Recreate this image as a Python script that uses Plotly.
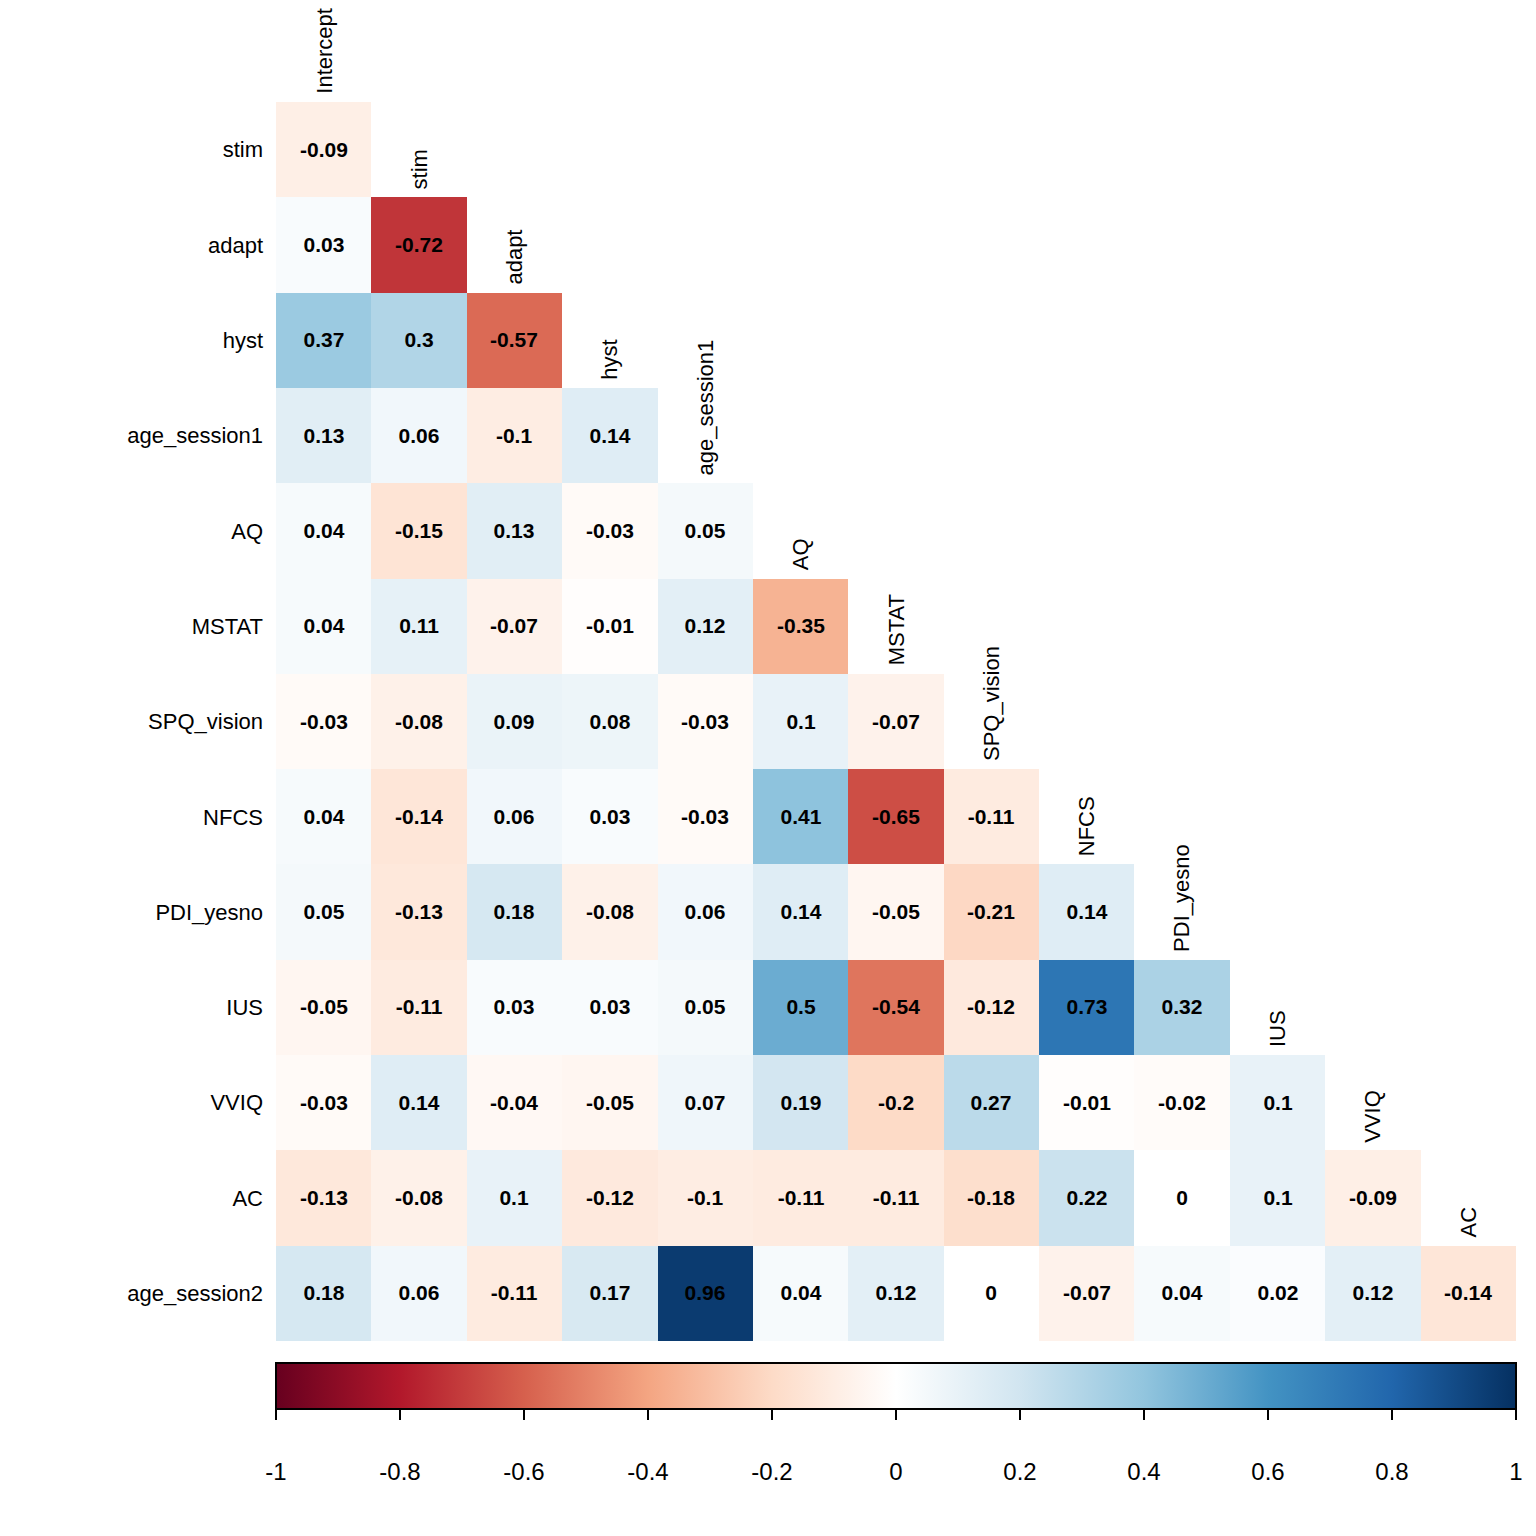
import plotly.graph_objects as go
import numpy as np

col_labels = ["Intercept", "stim", "adapt", "hyst", "age_session1", "AQ", "MSTAT",
              "SPQ_vision", "NFCS", "PDI_yesno", "IUS", "VVIQ", "AC"]
row_labels = ["stim", "adapt", "hyst", "age_session1", "AQ", "MSTAT", "SPQ_vision",
              "NFCS", "PDI_yesno", "IUS", "VVIQ", "AC", "age_session2"]

r_stim = [-0.09]
r_adapt = [0.03, -0.72]
r_hyst = [0.37, 0.3, -0.57]
r_age1 = [0.13, 0.06, -0.1, 0.14]
r_AQ = [0.04, -0.15, 0.13, -0.03, 0.05]
r_MSTAT = [0.04, 0.11, -0.07, -0.01, 0.12, -0.35]
r_SPQ = [-0.03, -0.08, 0.09, 0.08, -0.03, 0.1, -0.07]
r_NFCS = [0.04, -0.14, 0.06, 0.03, -0.03, 0.41, -0.65, -0.11]
r_PDI = [0.05, -0.13, 0.18, -0.08, 0.06, 0.14, -0.05, -0.21, 0.14]
r_IUS = [-0.05, -0.11, 0.03, 0.03, 0.05, 0.5, -0.54, -0.12, 0.73, 0.32]
r_VVIQ = [-0.03, 0.14, -0.04, -0.05, 0.07, 0.19, -0.2, 0.27, -0.01, -0.02, 0.1]
r_AC = [-0.13, -0.08, 0.1, -0.12, -0.1, -0.11, -0.11, -0.18, 0.22, 0, 0.1, -0.09]
r_age2 = [0.18, 0.06, -0.11, 0.17, 0.96, 0.04, 0.12, 0, -0.07, 0.04, 0.02, 0.12, -0.14]

rows = [r_stim, r_adapt, r_hyst, r_age1, r_AQ, r_MSTAT, r_SPQ, r_NFCS, r_PDI,
        r_IUS, r_VVIQ, r_AC, r_age2]

cb_ticks = [-1, -0.8, -0.6, -0.4, -0.2, 0, 0.2, 0.4, 0.6, 0.8, 1]
rdbu = ["#67001F", "#B2182B", "#D6604D", "#F4A582", "#FDDBC7", "#FFFFFF",
        "#D1E5F0", "#92C5DE", "#4393C3", "#2166AC", "#053061"]

n = len(col_labels)
z = [[None] * n for _ in range(len(row_labels))]
txt = [[""] * n for _ in range(len(row_labels))]
for i, r in enumerate(rows):
    for j, v in enumerate(r):
        z[i][j] = v
        txt[i][j] = f"{v:g}"

FONT = "Liberation Sans, Arial, sans-serif"
colorscale = [[k / (len(rdbu) - 1), c] for k, c in enumerate(rdbu)]

fig = go.Figure(go.Heatmap(
    z=z, x=list(range(n)), y=list(range(len(row_labels))),
    text=txt, texttemplate="<b>%{text}</b>",
    textfont=dict(family=FONT, size=21, color="black"),
    colorscale=colorscale, zmin=-1, zmax=1, hoverinfo="skip",
    colorbar=dict(
        orientation="h", x=0.5, xanchor="center", y=-22 / 1239, yanchor="top",
        len=1, lenmode="fraction", thickness=46, thicknessmode="pixels",
        xpad=0, ypad=0, outlinecolor="black", outlinewidth=2,
        ticks="outside", ticklen=10, tickwidth=2, tickcolor="black",
        tickvals=cb_ticks, ticktext=["<br>" + f"{t:g}" for t in cb_ticks],
        tickfont=dict(family=FONT, size=24, color="black"),
    ),
))

for j, lab in enumerate(col_labels):
    fig.add_annotation(x=j, y=j - 0.5, xref="x", yref="y", text=lab, textangle=-90,
                       showarrow=False, xanchor="center", yanchor="bottom", yshift=6,
                       font=dict(family=FONT, size=22, color="black"))

fig.update_xaxes(range=[-0.5, n - 0.5], visible=False, showgrid=False, zeroline=False)
fig.update_yaxes(range=[len(row_labels) - 0.5, -0.5], tickvals=list(range(len(row_labels))),
                 ticktext=row_labels, showgrid=False, zeroline=False, ticks="",
                 ticklabelstandoff=12, tickfont=dict(family=FONT, size=22, color="black"))
fig.update_layout(width=1536, height=1536, margin=dict(l=268, r=28, t=94, b=203),
                  plot_bgcolor="white", paper_bgcolor="white", font=dict(family=FONT))
fig.write_html("out.html")
